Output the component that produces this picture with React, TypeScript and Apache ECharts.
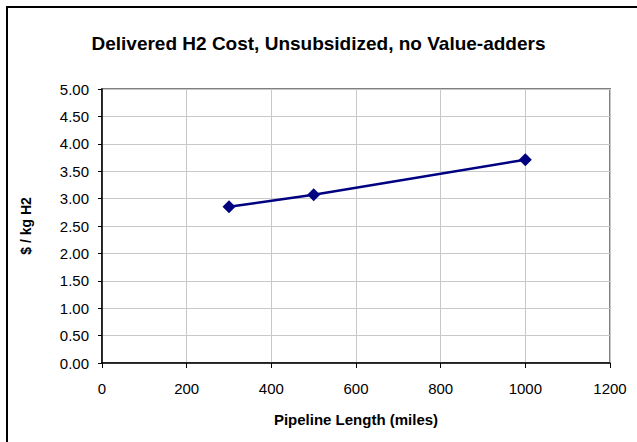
import React, { useEffect, useRef } from "react";
import * as echarts from "echarts";

const titleText = "Delivered H2 Cost, Unsubsidized, no Value-adders";
const xName = "Pipeline Length (miles)";
const yName = "$ / kg H2";
const pipelineLength = [300, 500, 1000];
const cost = [2.85, 3.07, 3.71];

export default function App() {
  const ref = useRef<HTMLDivElement>(null);
  useEffect(() => {
    document.body.style.margin = "0";
    if (!ref.current) return;
    const chart = echarts.init(ref.current, null, { renderer: "svg" });
    const font = "Arial, 'Liberation Sans', sans-serif";
    chart.setOption({
      animation: false,
      backgroundColor: "#ffffff",
      title: {
        text: titleText,
        left: "center",
        top: 29,
        textStyle: { fontFamily: font, fontSize: 19, fontWeight: "bold", color: "#000" },
      },
      grid: {
        left: 102,
        right: 27,
        top: 89,
        bottom: 79,
        show: true,
        borderColor: "#808080",
        borderWidth: 2,
      },
      xAxis: {
        type: "value",
        min: 0,
        max: 1200,
        interval: 200,
        name: xName,
        nameLocation: "middle",
        nameGap: 49,
        nameTextStyle: { fontFamily: font, fontSize: 15, fontWeight: "bold", color: "#000" },
        axisLine: { show: true, lineStyle: { color: "#000", width: 1.5 } },
        axisTick: { show: true, inside: false, length: 5, lineStyle: { color: "#000" } },
        axisLabel: {
          fontFamily: font,
          fontSize: 15,
          color: "#000",
          margin: 18,
          formatter: (v: number) => String(v),
        },
        splitLine: { show: true, lineStyle: { color: "#c8c8c8", width: 1 } },
      },
      yAxis: {
        type: "value",
        min: 0,
        max: 5,
        interval: 0.5,
        name: yName,
        nameLocation: "middle",
        nameGap: 69,
        nameTextStyle: { fontFamily: font, fontSize: 14, fontWeight: "bold", color: "#000" },
        axisLine: { show: true, lineStyle: { color: "#000", width: 1.5 } },
        axisTick: { show: true, inside: false, length: 4, lineStyle: { color: "#000" } },
        axisLabel: {
          fontFamily: font,
          fontSize: 15,
          color: "#000",
          margin: 13,
          formatter: (v: number) => v.toFixed(2),
        },
        splitLine: { show: true, lineStyle: { color: "#c8c8c8", width: 1 } },
      },
      graphic: [
        {
          type: "rect",
          shape: { x: 7, y: 7, width: 640, height: 445 },
          style: { fill: "none", stroke: "#000", lineWidth: 2 },
          silent: true,
        },
      ],
      series: [
        {
          type: "line",
          data: pipelineLength.map((x, i) => [x, cost[i]]),
          symbol: "diamond",
          symbolSize: 13,
          lineStyle: { color: "#000080", width: 2.5 },
          itemStyle: { color: "#000080" },
        },
      ],
    });
    return () => chart.dispose();
  }, []);
  return <div ref={ref} style={{ width: 637, height: 442 }} />;
}
